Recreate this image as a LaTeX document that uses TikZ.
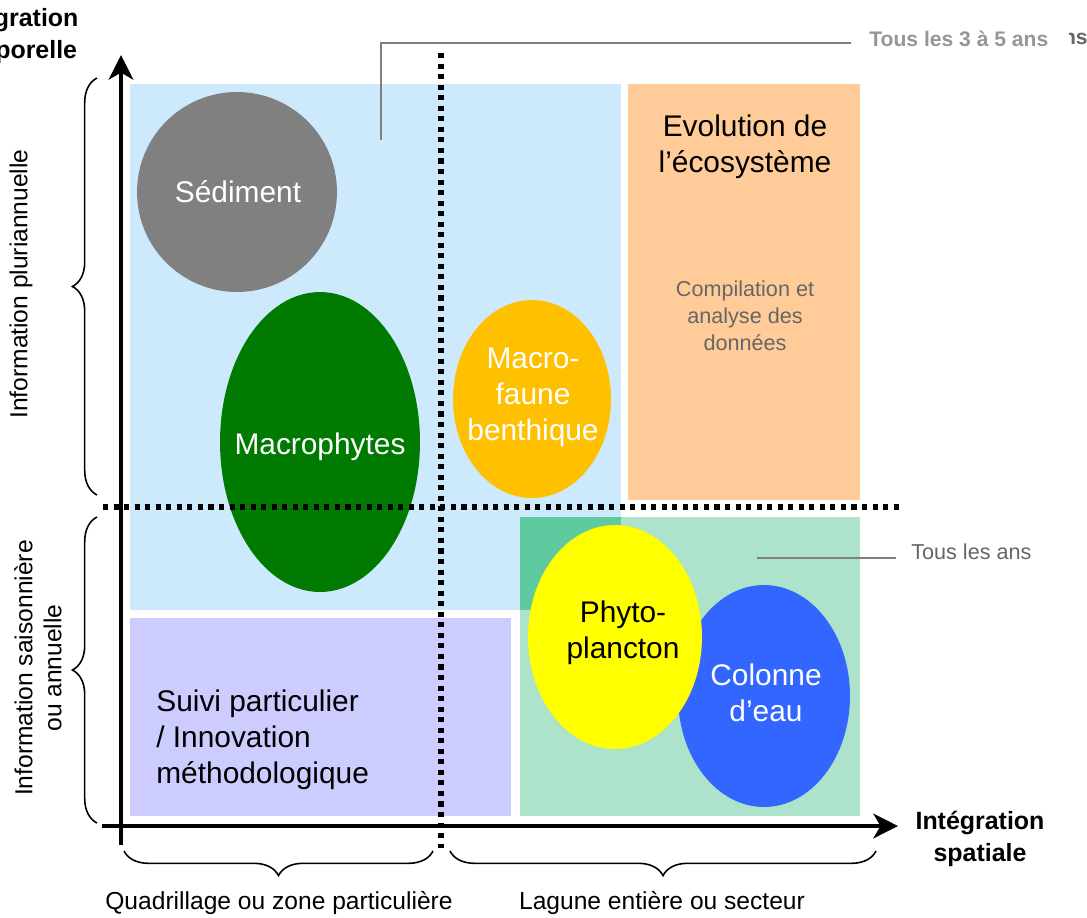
\documentclass[tikz,border=0pt]{standalone}
\usepackage{fontspec}
\setmainfont{Liberation Sans}
\usetikzlibrary{arrows.meta,shapes.geometric,decorations.pathreplacing}

\definecolor{zoneblue}{HTML}{CCEAFC}
\definecolor{zonegreen}{HTML}{ACE3CA}
\definecolor{zonemix}{HTML}{5FC99F}
\definecolor{zonelilac}{HTML}{CCCCFF}
\definecolor{zoneorange}{HTML}{FFCC99}
\definecolor{sedgray}{HTML}{808080}
\definecolor{macrogreen}{HTML}{007A00}
\definecolor{faunegold}{HTML}{FFC000}
\definecolor{phytoyellow}{HTML}{FFFF00}
\definecolor{waterblue}{HTML}{3366FF}
\definecolor{leadgray}{HTML}{7F7F7F}
\definecolor{notegray}{HTML}{969696}
\definecolor{softgray}{HTML}{666666}

\begin{document}
\begin{tikzpicture}[x=0.02cm,y=-0.02cm,
  bubble/.style={ellipse,inner sep=0pt,draw=none},
  axis/.style={line width=2.3pt,-{Stealth[length=14pt,width=14pt,inset=4pt]}},
  gridline/.style={line width=2.9pt,dash pattern=on 2.9pt off 3.1pt},
  leader/.style={draw=leadgray,line width=0.7pt},
  curly/.style={decorate,decoration={brace,amplitude=14pt},line width=0.9pt},
  txt/.style={inner sep=0pt,align=center},
  big/.style={font=\fontsize{17}{20.4}\selectfont},
  mid/.style={font=\fontsize{14}{16.5}\selectfont},
  small/.style={font=\fontsize{12.3}{15.3}\selectfont},
  axlabel/.style={font=\bfseries\fontsize{14.2}{18}\selectfont},
]
\useasboundingbox (0,0) rectangle (1087,917);

% background zones
\fill[zoneblue]   (130,84)  rectangle (621,610);
\fill[zonegreen]  (520,517) rectangle (860,816);
\fill[zonemix]    (520,517) rectangle (621,610);
\fill[zonelilac]  (130,618) rectangle (511,816);
\fill[zoneorange] (628,84)  rectangle (860,500);

% compartments
\node[bubble,fill=sedgray,minimum width=4cm,minimum height=4cm] (sed) at (237,192) {};
\node[bubble,fill=macrogreen,minimum width=4cm,minimum height=6cm] (mphy) at (320,442) {};
\node[bubble,fill=faunegold,minimum width=3.16cm,minimum height=3.96cm] (mfau) at (532,399) {};
\node[bubble,fill=waterblue,minimum width=3.44cm,minimum height=4.44cm] (col) at (764,696) {};
\node[bubble,fill=phytoyellow,minimum width=3.48cm,minimum height=4.48cm] (phy) at (615,637) {};

% compartment names
\node[txt,big,text=white] (sedt) at (238,192) {Sédiment};
\node[txt,big,text=white] (mphyt) at (320,447) {Macrophytes};
\node[txt,big,text=white] (mfaut) at (533,397) {Macro-\\faune\\benthique};
\node[txt,big,text=black] (phyt) at (623,633) {Phyto-\\plancton};
\node[txt,big,text=white] (colt) at (766,693) {Colonne\\d’eau};
\node[txt,big,text=black] (evo) at (745,147) {Evolution de\\l’écosystème};
\node[txt,small,text=softgray] (comp) at (745,316) {Compilation et\\analyse des\\données};
\node[txt,big,text=black,align=left,anchor=west] (suivi) at (156,740) {Suivi particulier\\/ Innovation\\méthodologique};

% frequency notes
\coordinate (lA) at (381,140);
\coordinate (lB) at (381,43);
\coordinate (lC) at (851,43);
\draw[leader] (lA) -- (lB) -- (lC);
\node[txt,font=\bfseries\fontsize{12}{14}\selectfont,text=notegray,anchor=west] (n35) at (869,39) {Tous les 3 à 5 ans};
\begin{scope}
  \clip (1069,0) rectangle (1087,100);
  \node[txt,font=\bfseries\fontsize{12}{14}\selectfont,text=softgray,anchor=east] (n35b) at (1088,39) {ans};
\end{scope}
\coordinate (lD) at (757,558);
\coordinate (lE) at (896,558);
\draw[leader] (lD) -- (lE);
\node[txt,small,text=softgray,anchor=west] (n1) at (911,552) {Tous les ans};

% scale separators
\coordinate (vtop) at (441,53);
\coordinate (vbot) at (441,848);
\coordinate (hleft) at (103,507);
\coordinate (hright) at (900,507);
\draw[gridline] (vtop) -- (vbot);
\draw[gridline] (hleft) -- (hright);

% axes
\coordinate (ybase) at (121,845);
\coordinate (ytip) at (121,55);
\coordinate (xbase) at (102,826);
\coordinate (xtip) at (898,826);
\draw[axis] (ybase) -- (ytip);
\draw[axis] (xbase) -- (xtip);

\node[txt,axlabel] (ylab) at (14,36) {Intégration\\temporelle};
\node[txt,axlabel] (xlab) at (980,839) {Intégration\\spatiale};

% braces
\coordinate (b1s) at (97,495);
\coordinate (b1e) at (97,78);
\coordinate (b2s) at (97,823);
\coordinate (b2e) at (97,517);
\coordinate (b3s) at (433,851);
\coordinate (b3e) at (124,851);
\coordinate (b4s) at (876,851);
\coordinate (b4e) at (450,851);
\draw[curly] (b1s) -- (b1e);
\draw[curly] (b2s) -- (b2e);
\draw[curly] (b3s) -- (b3e);
\draw[curly] (b4s) -- (b4e);

\node[txt,mid,rotate=90] (pluri) at (21,284) {Information pluriannuelle};
\node[txt,mid,rotate=90] (saison) at (38,668) {Information saisonnière\\ou annuelle};
\node[txt,mid] (quad) at (279,903) {Quadrillage ou zone particulière};
\node[txt,mid] (lag) at (662,903) {Lagune entière ou secteur};
\end{tikzpicture}
\end{document}
